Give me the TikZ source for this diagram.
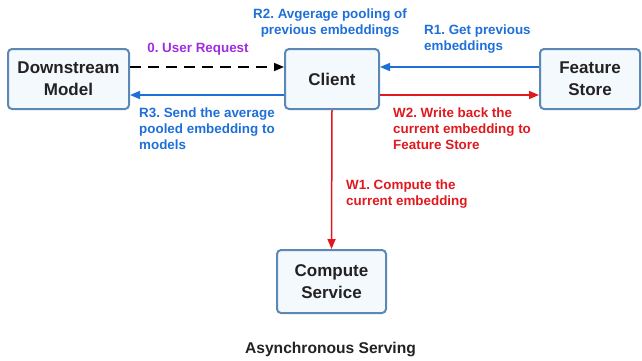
\documentclass[tikz,border=0pt]{standalone}
\usepackage{fontspec}
\setmainfont{Liberation Sans}
\usetikzlibrary{arrows.meta}
\frenchspacing
\definecolor{boxfill}{HTML}{F4F9FE}
\definecolor{boxdraw}{HTML}{5B88B5}
\definecolor{myblue}{HTML}{1F6FD8}
\definecolor{myred}{HTML}{E0191E}
\definecolor{mypurple}{HTML}{A02CE0}
\definecolor{mytext}{HTML}{222222}
\tikzset{
  box/.style={draw=boxdraw, fill=boxfill, line width=2pt, rounded corners=4pt,
    align=center, text=mytext, font=\fontsize{17}{22}\selectfont\bfseries, inner sep=0pt},
  lbl/.style={align=left, font=\fontsize{13.4}{16}\selectfont\bfseries, inner sep=0pt},
  tip/.style={-{Triangle[length=10pt,width=8pt]}},
  bluearrow/.style={tip, draw=myblue, fill=myblue, line width=1.5pt},
  redarrow/.style={tip, draw=myred, fill=myred, line width=1.5pt},
}
\begin{document}
\begin{tikzpicture}[x=1pt,y=-1pt]
\useasboundingbox (0,0) rectangle (642,360);
\node[box, minimum width=121pt, minimum height=60pt] (dm) at (68.5,79) {Downstream\\Model};
\node[box, minimum width=94pt, minimum height=60pt] (cl) at (332,79) {Client};
\node[box, minimum width=100pt, minimum height=60pt] (fs) at (590,79) {Feature\\Store};
\node[box, minimum width=109pt, minimum height=63pt] (cs) at (331.5,281.5) {Compute\\Service};
\coordinate (ya) at (0,67);
\coordinate (yb) at (0,95);
\draw[tip, dashed, dash pattern=on 11pt off 7pt, line width=1.5pt, black] (dm.east |- ya) -- (cl.west |- ya);
\draw[bluearrow] (cl.west |- yb) -- (dm.east |- yb);
\draw[bluearrow] (fs.west |- ya) -- (cl.east |- ya);
\draw[redarrow] (cl.east |- yb) -- (fs.west |- yb);
\draw[redarrow] (cl.south) -- (cs.north);
\node[lbl, text=mypurple, anchor=center] (l0) at (198,49) {0. User Request};
\node[lbl, text=myblue, align=center, anchor=center] (r2) at (330,23.5) {R2. Avgerage pooling of\\previous embeddings};
\node[lbl, text=myblue, anchor=west] (r1) at (424,39) {R1. Get previous\\embeddings};
\node[lbl, text=myblue, anchor=west] (r3) at (139,129) {R3. Send the average\\pooled embedding to\\models};
\node[lbl, text=myred, anchor=west] (w2) at (393,129) {W2. Write back the\\current embedding to\\Feature Store};
\node[lbl, text=myred, anchor=west] (w1) at (346,194) {W1. Compute the\\current embedding};
\node[lbl, text=mytext, anchor=center, font=\fontsize{15.6}{18}\selectfont\bfseries] (title) at (330.5,349) {Asynchronous Serving};
\end{tikzpicture}
\end{document}
